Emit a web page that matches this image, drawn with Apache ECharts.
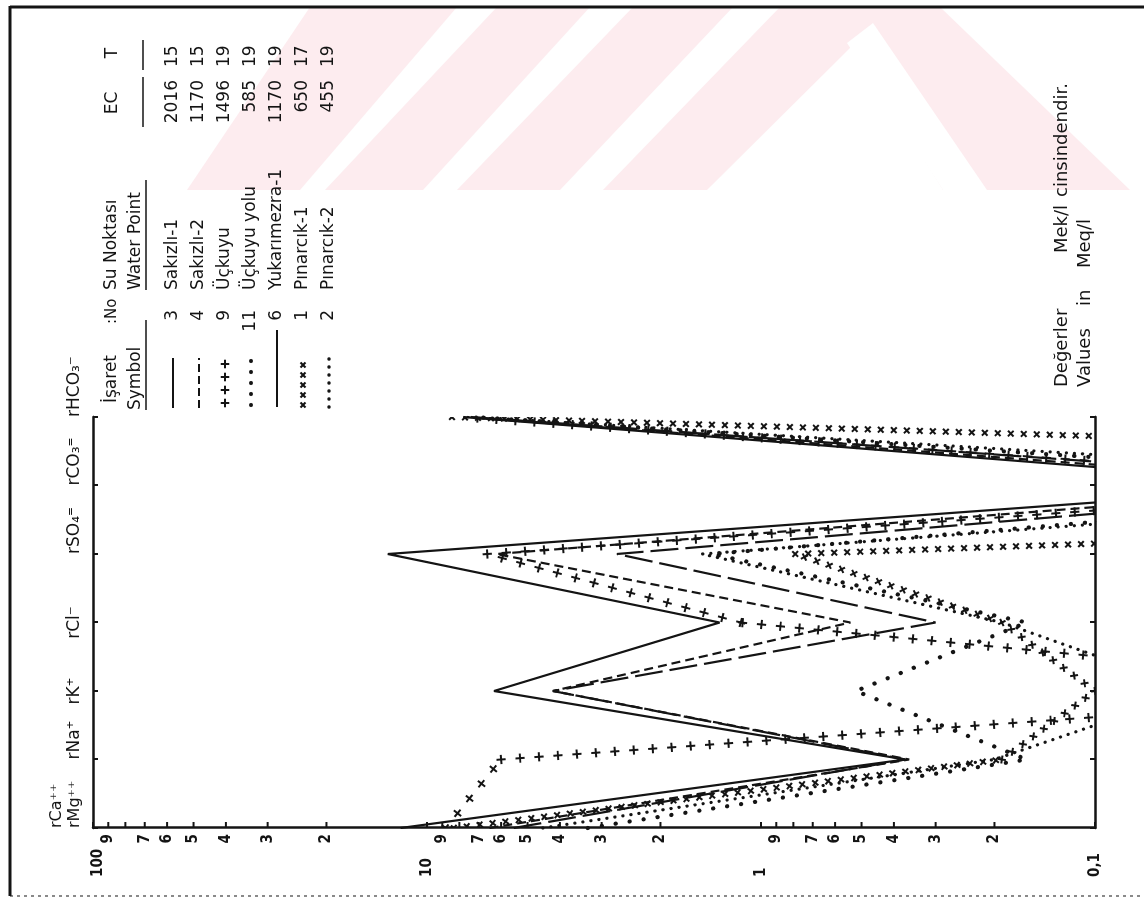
<!DOCTYPE html>
<html><head><meta charset="utf-8">
<script src="https://cdn.jsdelivr.net/npm/echarts/dist/echarts.min.js"></script>
<style>
html,body{margin:0;padding:0;background:#fff;overflow:hidden;width:1144px;height:898px;}
#wrap{position:absolute;left:0;top:0;width:898px;height:1144px;transform-origin:0 0;transform:translate(0px,898px) rotate(-90deg);}
#chart{width:898px;height:1144px;}
</style></head><body>
<div id="wrap"><div id="chart"></div></div>
<script>
// ---------------- data ----------------
const categories = ['rCa⁺⁺\nrMg⁺⁺', 'rNa⁺', 'rK⁺', 'rCl⁻', 'rSO₄⁼', 'rCO₃⁼', 'rHCO₃⁻'];
const sakizli1    = [12,  0.37, 6.3,   1.33, 13.1, 0.02,  7.8];
const sakizli2    = [6.5, 0.36, 4.2,   0.54, 6.2,  0.015, 7.6];
const uckuyu      = [8.8, 6.0,  0.008, 1.15, 6.6,  0.009, 7.8];
const uckuyuYolu  = [3.3, 0.16, 0.52,  0.16, 1.4,  0.005, 7.2];
const yukarimezra = [5.5, 0.37, 4.2,   0.30, 2.7,  0.01,  7.4];
const pinarcik1   = [8.3, 0.19, 0.1,   0.19, 0.79, 1e-6,  8.5];
const pinarcik2   = [4.5, 0.2,  0.05,  0.19, 1.5,  0.003, 7.2];

const pointNames = ['Sakızlı-1', 'Sakızlı-2', 'Üçkuyu', 'Üçkuyu yolu', 'Yukarımezra-1', 'Pınarcık-1', 'Pınarcık-2'];
const pointNos   = ['3', '4', '9', '11', '6', '1', '2'];
const ecValues   = ['2016', '1170', '1496', '585', '1170', '650', '455'];
const tValues    = ['15', '15', '19', '19', '19', '17', '19'];

const tickValues = [100, 90, 80, 70, 60, 50, 40, 30, 20,
                    10, 9, 8, 7, 6, 5, 4, 3, 2,
                    1, 0.9, 0.8, 0.7, 0.6, 0.5, 0.4, 0.3, 0.2, 0.1];
const tickLabels = ['100', '9', '', '7', '6', '5', '4', '3', '2',
                    '10', '9', '', '7', '6', '5', '4', '3', '2',
                    '1', '9', '', '7', '6', '5', '4', '3', '2', '0,1'];

// ---------------- styles ----------------
const INK = '#141414';
const W = 898;               // unrotated width (image height)
function img(x, y) { return [W - y, x]; }  // image coords -> unrotated chart coords

const styles = [
  {vals: sakizli1,    kind: 'line',  dash: 'solid'},
  {vals: sakizli2,    kind: 'line',  dash: [9, 5]},
  {vals: uckuyu,      kind: 'glyph', glyph: 'plus',  spacing: 19},
  {vals: uckuyuYolu,  kind: 'line',  dash: [0.1, 14], cap: 'round', width: 4.2},
  {vals: yukarimezra, kind: 'line',  dash: [28, 7]},
  {vals: pinarcik1,   kind: 'glyph', glyph: 'cross', spacing: 13},
  {vals: pinarcik2,   kind: 'line',  dash: [0.1, 8], cap: 'round', width: 3.2}
];

function glyphLines(cx, cy, ang, glyph, s) {
  const a = glyph === 'cross' ? ang + Math.PI / 4 : ang;
  const out = [];
  for (const t of [a, a + Math.PI / 2]) {
    const dx = Math.cos(t) * s, dy = Math.sin(t) * s;
    out.push({type: 'line', shape: {x1: cx - dx, y1: cy - dy, x2: cx + dx, y2: cy + dy},
              style: {stroke: INK, lineWidth: 2}});
  }
  return out;
}

function makeGlyphRender(vals, glyph, spacing) {
  return function (params, api) {
    const i = params.dataIndex;
    if (i >= vals.length - 1) return null;
    const p0 = api.coord([i, vals[i]]);
    const p1 = api.coord([i + 1, vals[i + 1]]);
    const dx = p1[0] - p0[0], dy = p1[1] - p0[1];
    const len = Math.hypot(dx, dy);
    const ang = Math.atan2(dy, dx);
    const n = Math.floor(len / spacing);
    const children = [];
    for (let k = 0; k <= n; k++) {
      const t = k * spacing / len;
      const cx = p0[0] + dx * t, cy = p0[1] + dy * t;
      if (cx < 66 || cx > 486 || cy < 89 || cy > 1099) continue;
      children.push(...glyphLines(cx, cy, ang, glyph, glyph === 'cross' ? 4 : 4.6));
    }
    return {type: 'group', children};
  };
}

const series = styles.map((s, idx) => {
  if (s.kind === 'line') {
    return {
      type: 'line', name: pointNames[idx], data: s.vals, symbol: 'none', clip: true,
      silent: true, animation: false,
      lineStyle: {color: INK, width: s.width || 2.2, type: s.dash, cap: s.cap || 'butt'}
    };
  }
  return {
    type: 'custom', name: pointNames[idx], clip: true, silent: true, animation: false,
    data: s.vals.map((v, i) => [i, v]), encode: {x: 0, y: 1},
    renderItem: makeGlyphRender(s.vals, s.glyph, s.spacing)
  };
});

const labelAlign = ['left', 'left', 'center', 'center', 'left', 'left', 'left'];
const catData = categories.map((c, i) => ({
  value: c,
  textStyle: i === 0 ? {align: 'left', fontSize: 16, lineHeight: 18} : {align: labelAlign[i]}
}));

const chart = echarts.init(document.getElementById('chart'), null, {renderer: 'canvas', width: 898, height: 1144});

const option = {
  animation: false,
  backgroundColor: '#ffffff',
  grid: {left: 70, top: 93, width: 411, height: 1002},
  xAxis: [
    {type: 'category', data: catData, boundaryGap: false, position: 'top',
     axisLine: {lineStyle: {color: INK, width: 2.5}},
     axisTick: {inside: true, length: 5, interval: 0, lineStyle: {color: INK, width: 2}},
     axisLabel: {interval: 0, hideOverlap: false, margin: 9, fontSize: 17, color: INK,
                 fontFamily: 'DejaVu Sans', lineHeight: 19},
     splitLine: {show: false}},
    {type: 'category', data: categories, boundaryGap: false, position: 'bottom',
     axisLine: {lineStyle: {color: INK, width: 2.5}},
     axisTick: {inside: true, length: 5, interval: 0, lineStyle: {color: INK, width: 2}},
     axisLabel: {show: false}, splitLine: {show: false}}
  ],
  yAxis: {type: 'log', logBase: 10, min: 0.1, max: 100, position: 'left',
    axisLine: {show: true, lineStyle: {color: INK, width: 2.5}},
    axisTick: {show: false}, axisLabel: {show: false}, splitLine: {show: false}, minorTick: {show: false}},
  series
};
chart.setOption(option);

// ---------------- decorations (ticks, legend table, notes, frame, watermark) ----------------
const g = [];
function text(x, y, str, font, align, extra) {
  g.push(Object.assign({type: 'text', x, y, silent: true, z: 50,
    style: {text: str, font, fill: INK, align: align || 'left', textAlign: align || 'left',
            verticalAlign: 'middle', textVerticalAlign: 'middle'}}, extra || {}));
}
function line(x1, y1, x2, y2, w, dash) {
  g.push({type: 'line', silent: true, z: 50, shape: {x1, y1, x2, y2},
          style: {stroke: INK, lineWidth: w || 2, lineDash: dash || null}});
}

// watermark (pale pink, image coordinates)
const PINK = '#fdecef';
function poly(pts, fill, z) {
  g.push({type: 'polygon', silent: true, z: z, shape: {points: pts.map(p => img(p[0], p[1]))}, style: {fill}});
}
poly([[187, 190], [310, 7], [940, 7], [1130, 190]], PINK, -20);
poly([[300, 190], [457, 7], [497, 7], [325, 190]], '#ffffff', -19);
poly([[423, 190], [590, 7], [633, 7], [457, 190]], '#ffffff', -19);
poly([[560, 190], [733, 7], [780, 7], [603, 190]], '#ffffff', -19);
poly([[707, 190], [853, 45], [943, 190]], '#ffffff', -19);
poly([[847, 43], [873, 23], [987, 190], [943, 190]], '#ffffff', -19);

// log-axis ticks and labels
const tickFont = 'bold 15px "DejaVu Sans Condensed", "DejaVu Sans"';
tickValues.forEach((v, i) => {
  const p = chart.convertToPixel({yAxisIndex: 0}, v);
  line(70, p, 76, p, 2);
  const lab = tickLabels[i];
  if (!lab) return;
  const major = Math.abs(Math.log10(v) - Math.round(Math.log10(v))) < 1e-9;
  if (major) text(21, p + (v === 100 ? 5 : 0), lab, tickFont, 'left');
  else text(64, p, lab, tickFont, 'right');
});

// legend table
const hFont = '17px "DejaVu Sans"';
text(495, 112, 'İşaret', hFont);
text(574, 112, ':No', '15px "DejaVu Sans"');
text(608, 112, 'Su Noktası', hFont);
text(795, 113, 'EC', hFont, 'center');
text(845, 113, 'T', hFont, 'center');
text(488, 136, 'Symbol', hFont);
line(488, 146, 578, 146, 1.5);
text(608, 136, 'Water Point', hFont);
line(608, 146, 718, 146, 1.5);
line(771, 143, 821, 143, 1.5);
line(828, 143, 858, 143, 1.5);

const legendKinds = ['solid', 'dash', 'plus', 'bigdot', 'long', 'cross', 'smalldot'];
legendKinds.forEach((k, i) => {
  const v = 173 + 26 * i;
  if (k === 'solid') line(490, v, 540, v, 2);
  if (k === 'dash') line(490, v, 540, v, 2, [8, 4]);
  if (k === 'long') line(491, v, 568, v, 2);
  if (k === 'plus') [495, 508, 521, 534].forEach(u => glyphLines(u, v, 0, 'plus', 4.3).forEach(e => { e.silent = true; e.z = 50; g.push(e); }));
  if (k === 'cross') [493, 503, 513, 523, 533].forEach(u => glyphLines(u, v, 0, 'cross', 3.6).forEach(e => { e.silent = true; e.z = 50; g.push(e); }));
  if (k === 'bigdot') [493, 504, 515, 526, 537].forEach(u => g.push({type: 'circle', silent: true, z: 50, shape: {cx: u, cy: v, r: 2.1}, style: {fill: INK}}));
  if (k === 'smalldot') [491, 499, 507, 515, 523, 531, 539].forEach(u => g.push({type: 'circle', silent: true, z: 50, shape: {cx: u, cy: v, r: 1.8}, style: {fill: INK}}));
  text(588, v, pointNos[i], hFont, 'right');
  text(608, v, pointNames[i], hFont);
  text(818, v, ecValues[i], hFont, 'right');
  text(831, v, tValues[i], hFont);
});

// unit note
const nFont = '18px "DejaVu Sans"';
text(511, 1062, 'Değerler', nFont);
text(645, 1062, 'Mek/l', nFont);
text(701, 1062, 'cinsindendir.', nFont);
text(511, 1085, 'Values', nFont);
text(592, 1085, 'in', nFont);
text(630, 1085, 'Meq/l', nFont);

// frame
line(2, 10, 892, 10, 3);
line(891, 10, 891, 1144, 3);
line(2, 10, 2, 1144, 1, [3, 4]);

chart.setOption({graphic: {elements: g}});
</script>
</body></html>
